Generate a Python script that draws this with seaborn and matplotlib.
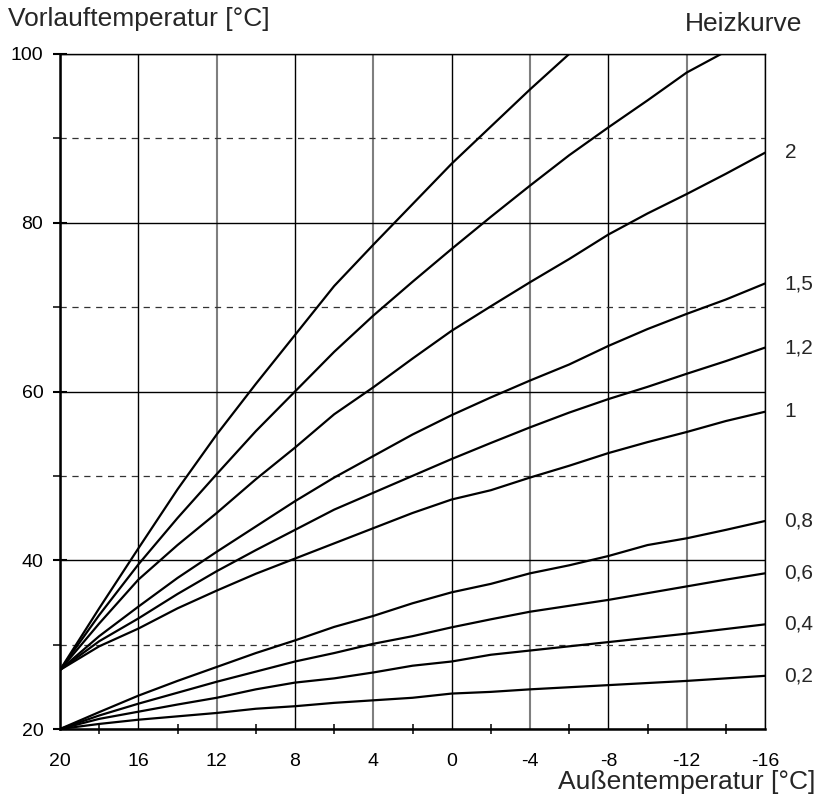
import numpy as np
import pandas as pd
import matplotlib
matplotlib.use('Agg')
import matplotlib.pyplot as plt
from matplotlib.ticker import MultipleLocator, FixedLocator
import seaborn as sns

# Außentemperatur steps (every 2 K, from +20 down to -16)
aussen = [20, 18, 16, 14, 12, 10, 8, 6, 4, 2, 0, -2, -4, -6, -8, -10, -12, -14, -16]

# Vorlauftemperatur per Heizkurve
kurve_02 = [20, 20.6, 21.1, 21.5, 21.9, 22.4, 22.7, 23.1, 23.4, 23.7, 24.2, 24.4, 24.7, 24.95, 25.2, 25.45, 25.7, 26.0, 26.3]
kurve_04 = [20, 21.2, 22.05, 22.9, 23.7, 24.7, 25.5, 26.0, 26.7, 27.5, 28.0, 28.8, 29.3, 29.8, 30.3, 30.8, 31.3, 31.85, 32.4]
kurve_06 = [20, 21.6, 23.0, 24.3, 25.6, 26.8, 28.0, 29.0, 30.1, 31.0, 32.05, 33.0, 33.9, 34.6, 35.3, 36.1, 36.9, 37.7, 38.45]
kurve_08 = [20, 22.0, 23.95, 25.7, 27.35, 29.0, 30.5, 32.1, 33.4, 34.9, 36.2, 37.2, 38.45, 39.4, 40.5, 41.8, 42.6, 43.6, 44.65]
kurve_10 = [27, 29.8, 31.9, 34.3, 36.4, 38.4, 40.2, 42.0, 43.8, 45.6, 47.2, 48.3, 49.8, 51.2, 52.7, 54.0, 55.2, 56.5, 57.6]
kurve_12 = [27, 30.4, 33.1, 36.0, 38.7, 41.2, 43.6, 46.0, 48.0, 50.0, 52.0, 53.9, 55.75, 57.5, 59.1, 60.55, 62.1, 63.6, 65.2]
kurve_15 = [27, 31.0, 34.5, 37.9, 41.0, 44.0, 47.0, 49.8, 52.35, 54.9, 57.2, 59.3, 61.3, 63.2, 65.4, 67.4, 69.2, 70.9, 72.8]
kurve_20 = [27, 32.5, 37.7, 41.8, 45.6, 49.6, 53.35, 57.3, 60.5, 63.9, 67.2, 70.1, 72.95, 75.7, 78.6, 81.1, 83.4, 85.8, 88.3]
kurve_25 = [27, 33.5, 39.5, 45.0, 50.2, 55.3, 60.0, 64.7, 69.0, 73.0, 76.9, 80.7, 84.4, 88.0, 91.3, 94.5, 97.8, 100.3]
kurve_30 = [27, 34.3, 41.4, 48.4, 54.9, 60.9, 66.7, 72.5, 77.4, 82.2, 87.0, 91.4, 95.8, 100.0]

kurven = [kurve_02, kurve_04, kurve_06, kurve_08, kurve_10, kurve_12, kurve_15, kurve_20, kurve_25, kurve_30]
labels = ["0,2", "0,4", "0,6", "0,8", "1", "1,2", "1,5", "2", None, None]

x_ticks = [20, 16, 12, 8, 4, 0, -4, -8, -12, -16]
x_ticklabels = ["20", "16", "12", "8", "4", "0", "-4", "-8", "-12", "-16"]
y_ticks = [20, 40, 60, 80, 100]

rows = []
for i, werte in enumerate(kurven):
    for x, y in zip(aussen, werte):
        rows.append({"kurve": i, "aussen": x, "vorlauf": y})
df = pd.DataFrame(rows)

sns.set_theme(style="white")
plt.rcParams['font.family'] = ['Liberation Sans', 'DejaVu Sans']

W, H = 818, 799
fig = plt.figure(figsize=(W / 100, H / 100), dpi=100)
ax = fig.add_axes([60 / W, (H - 729) / H, 705 / W, 675 / H])

sns.lineplot(data=df, x="aussen", y="vorlauf", units="kurve", estimator=None,
             color="black", linewidth=1.6, sort=True, ax=ax, zorder=3)

ax.set_xlim(20, -16)
ax.set_ylim(20, 100)
ax.set_xlabel("")
ax.set_ylabel("")

# grid: vertical every 4 K, alternating black / grey
ax.xaxis.set_major_locator(FixedLocator(x_ticks))
ax.set_xticklabels(x_ticklabels)
ax.xaxis.set_minor_locator(MultipleLocator(2))
ax.yaxis.set_major_locator(FixedLocator(y_ticks))
ax.yaxis.set_minor_locator(MultipleLocator(10))

ax.grid(axis="x", which="major", color="black", linewidth=1.0)
ax.grid(axis="y", which="major", color="black", linewidth=1.0)
ax.grid(axis="y", which="minor", color="#333333", linewidth=0.9, linestyle=(0, (5, 4.5)))
for i, gl in enumerate(ax.get_xgridlines()):
    if i % 2 == 0 and i > 0:
        gl.set_color("#7f7f7f")
        gl.set_linewidth(1.5)

for side in ["left", "bottom"]:
    ax.spines[side].set_linewidth(1.8)
    ax.spines[side].set_color("black")
for side in ["top", "right"]:
    ax.spines[side].set_linewidth(1.0)
    ax.spines[side].set_color("black")

ax.tick_params(axis="x", which="major", direction="inout", length=10, width=1.5,
               labelsize=14, pad=12, colors="black")
ax.tick_params(axis="x", which="minor", direction="inout", length=7, width=1.3, bottom=True)
ax.tick_params(axis="y", which="major", direction="inout", length=10, width=1.5,
               labelsize=14, pad=7, colors="black", left=True)
ax.tick_params(axis="y", which="minor", direction="out", length=5, width=1.3, left=True)

# curve names at the right end
for werte, lab in zip(kurven, labels):
    if lab is None:
        continue
    ax.text(-17.0, werte[-1], lab, ha="left", va="center", fontsize=15, clip_on=False)

fig.text(8 / W, 1 - 19 / H, "Vorlauftemperatur [°C]", ha="left", va="center", fontsize=19)
fig.text(802 / W, 1 - 24 / H, "Heizkurve", ha="right", va="center", fontsize=19)
fig.text(815 / W, 1 - 782 / H, "Außentemperatur [°C]", ha="right", va="center", fontsize=19)

fig.savefig("out.png", dpi=100)
